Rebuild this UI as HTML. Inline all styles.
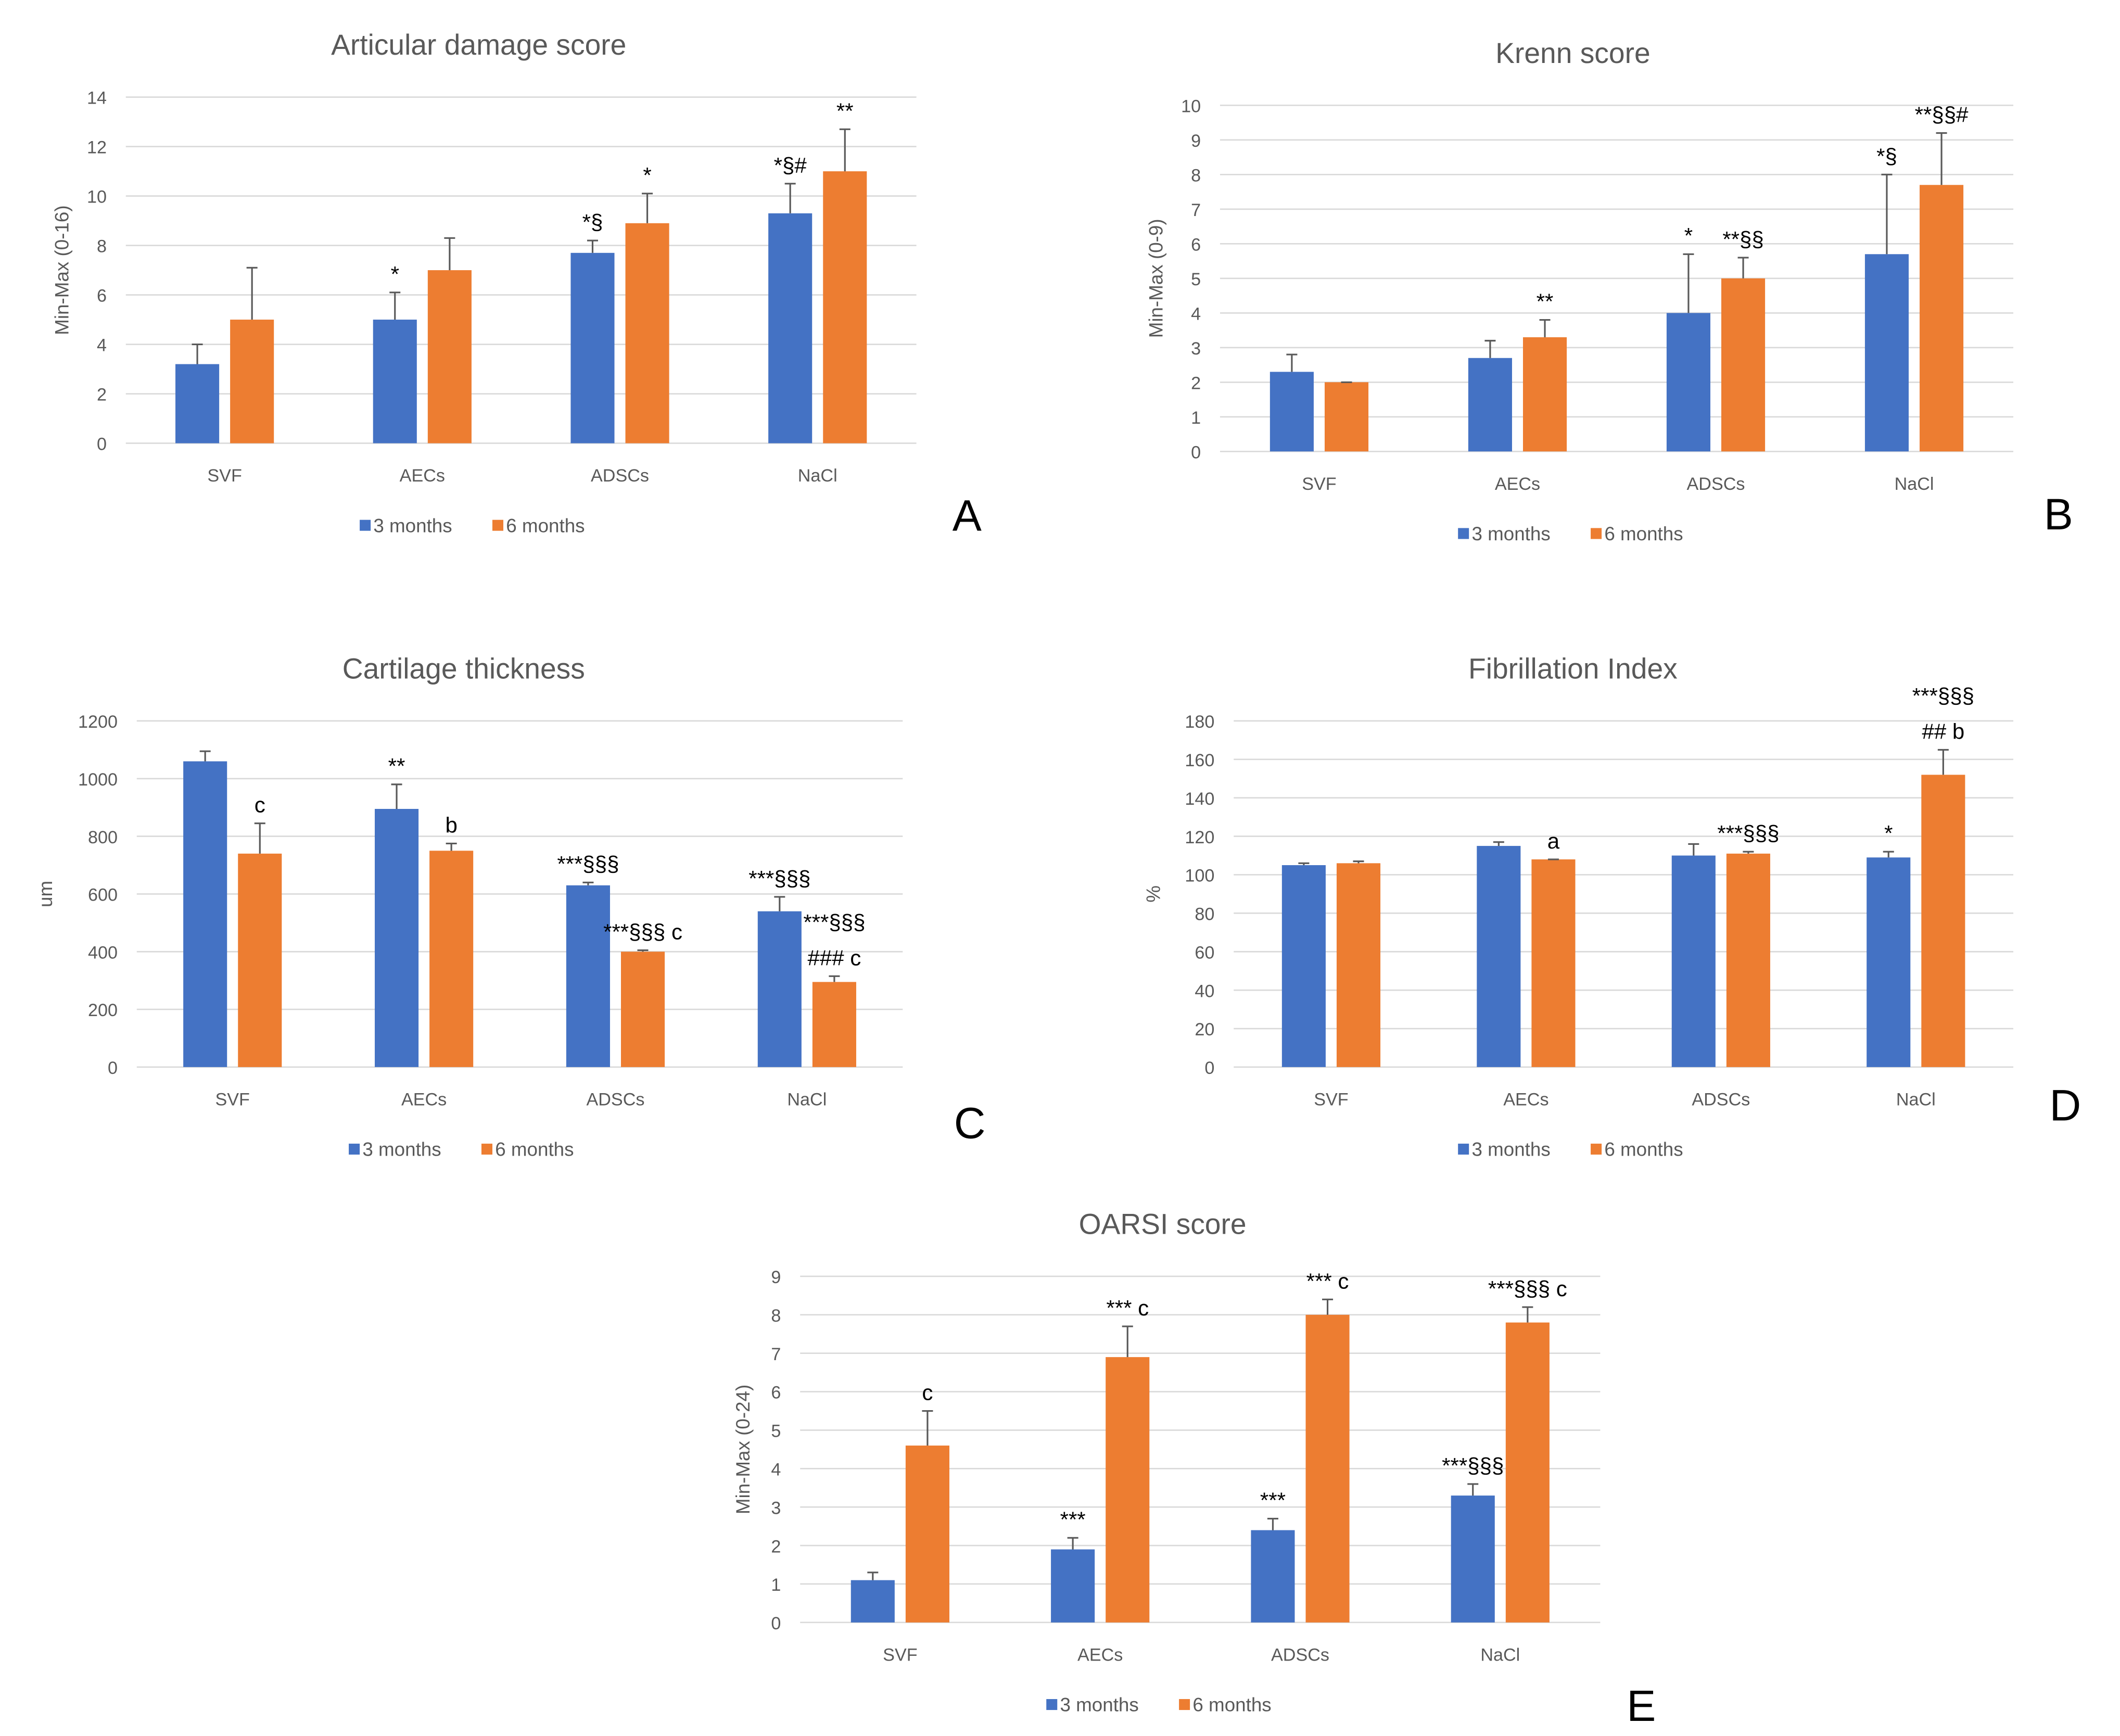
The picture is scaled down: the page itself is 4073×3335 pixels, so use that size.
<!DOCTYPE html>
<html><head><meta charset="utf-8">
<style>
html,body{margin:0;padding:0;background:#fff;}
svg{display:block;}
text{font-family:"Liberation Sans",sans-serif;}
</style></head>
<body>
<svg id="fig" width="4073" height="3335" viewBox="0 0 1550 1269" preserveAspectRatio="none" xmlns="http://www.w3.org/2000/svg">
<rect width="1550" height="1269" fill="#fff"/>
</svg>
<script>
const categories = ["SVF","AECs","ADSCs","NaCl"];
// Panel A
const aBlue = [3.2,5.0,7.7,9.3];
const aOrange = [5.0,7.0,8.9,11.0];
const aBlueErr = [4.0,6.1,8.2,10.5];
const aOrangeErr = [7.1,8.3,10.1,12.7];
const aTicks = [0,2,4,6,8,10,12,14];
const aBlueAnn = ["","*","*§","*§#"];
const aOrangeAnn = ["","","*","**"];
// Panel B
const bBlue = [2.3,2.7,4.0,5.7];
const bOrange = [2.0,3.3,5.0,7.7];
const bBlueErr = [2.8,3.2,5.7,8.0];
const bOrangeErr = [2.0,3.8,5.6,9.2];
const bTicks = [0,1,2,3,4,5,6,7,8,9,10];
const bBlueAnn = ["","","*","*§"];
const bOrangeAnn = ["","**","**§§","**§§#"];
// Panel C
const cBlue = [1060,895,630,540];
const cOrange = [740,750,400,295];
const cBlueErr = [1095,980,640,590];
const cOrangeErr = [845,775,405,315];
const cTicks = [0,200,400,600,800,1000,1200];
const cBlueAnn = ["","**","***§§§","***§§§"];
const cOrangeAnn = ["c","b","***§§§ c","***§§§|### c"];
// Panel D
const dBlue = [105,115,110,109];
const dOrange = [106,108,111,152];
const dBlueErr = [106,117,116,112];
const dOrangeErr = [107,108,112,165];
const dTicks = [0,20,40,60,80,100,120,140,160,180];
const dBlueAnn = ["","","","*"];
const dOrangeAnn = ["","a","***§§§","***§§§|## b"];
// Panel E
const eBlue = [1.1,1.9,2.4,3.3];
const eOrange = [4.6,6.9,8.0,7.8];
const eBlueErr = [1.3,2.2,2.7,3.6];
const eOrangeErr = [5.5,7.7,8.4,8.2];
const eTicks = [0,1,2,3,4,5,6,7,8,9];
const eBlueAnn = ["","***","***","***§§§"];
const eOrangeAnn = ["c","*** c","*** c","***§§§ c"];

const NS="http://www.w3.org/2000/svg";
const svg=document.getElementById('fig');
function mk(tag,attrs,parent){const e=document.createElementNS(NS,tag);for(const k in attrs)e.setAttribute(k,attrs[k]);(parent||svg).appendChild(e);return e;}
function txt(s,x,y,size,fill,anchor,parent){const t=mk('text',{x:x,y:y,'font-size':size,fill:fill,'text-anchor':anchor||'middle'},parent);t.textContent=s;return t;}

function panel(p){
  const g=mk('g',{});
  
  
  const max=p.ticks[p.ticks.length-1];
  const yS=v=>p.y0-(v/max)*(p.y0-p.yTop);
  const step=(p.x1-p.x0)/4;
  const xS=i=>p.x0+step*(i+0.5);
  p.ticks.forEach(t=>{
    const l=mk('line',{x1:p.x0,x2:p.x1,y1:yS(t),y2:yS(t),stroke:'#d9d9d9','stroke-width':1},g);
    
    
    const tl=txt(String(t),p.x0-14,yS(t)+5,13,'#595959','end',g);
    
    
  });
  const tt=txt(p.title,p.titleX,p.titleY,21,'#595959','middle',g);
  
  
  const yt=txt(p.ytitle,0,0,14,'#595959','middle',g);
  yt.setAttribute('transform','translate('+p.ytx+','+((p.y0+p.yTop)/2)+') rotate(-90)');
  
  
  const bw=32;
  const series=[[p.blue,p.blueErr,p.blueAnn,'#4472c4',-20,'3-months'],[p.orange,p.orangeErr,p.orangeAnn,'#ed7d31',20,'6-months']];
  categories.forEach((c,i)=>{
    const cl=txt(c,xS(i),p.y0+28,13,'#595959','middle',g);
    
    
    series.forEach(s=>{
      const cx=xS(i)+s[4];
      const r=mk('rect',{x:cx-bw/2,y:yS(s[0][i]),width:bw,height:yS(0)-yS(s[0][i]),fill:s[3]},g);
      
      
      const ey=yS(s[1][i]);
      const el=mk('path',{d:'M'+cx+' '+yS(s[0][i])+'V'+ey+'M'+(cx-4)+' '+ey+'H'+(cx+4),stroke:'#595959','stroke-width':1.2,fill:'none'},g);
      
      
      const ann=s[2][i];
      if(ann){
        const lines=ann.split('|');
        lines.forEach((ln,k)=>{
          const a=txt(ln,cx,ey-8-(lines.length-1-k)*26,16,'#000','middle',g);
          
          
        });
      }
    });
  });
  const lx=p.legX;
  const lb=mk('rect',{x:lx-87,y:p.legY-9,width:8,height:8,fill:'#4472c4'},g);
  
  
  const l1=txt('3 months',lx-77,p.legY,14,'#595959','start',g);
  
  
  const lo=mk('rect',{x:lx+10,y:p.legY-9,width:8,height:8,fill:'#ed7d31'},g);
  
  
  const l2=txt('6 months',lx+20,p.legY,14,'#595959','start',g);
  
  
  const pl=txt(p.letter,p.letX,p.letY,32,'#000','middle',g);
  
  
}

panel({id:'articular-damage',title:'Articular damage score',titleX:350,titleY:40,ytitle:'Min-Max (0-16)',ytx:50,x0:92,x1:670,y0:324,yTop:71,ticks:aTicks,blue:aBlue,orange:aOrange,blueErr:aBlueErr,orangeErr:aOrangeErr,blueAnn:aBlueAnn,orangeAnn:aOrangeAnn,legX:350,legY:389,letter:'A',letX:707,letY:388});
panel({id:'krenn',title:'Krenn score',titleX:1150,titleY:46,ytitle:'Min-Max (0-9)',ytx:850,x0:892,x1:1472,y0:330,yTop:77,ticks:bTicks,blue:bBlue,orange:bOrange,blueErr:bBlueErr,orangeErr:bOrangeErr,blueAnn:bBlueAnn,orangeAnn:bOrangeAnn,legX:1153,legY:395,letter:'B',letX:1505,letY:387});
panel({id:'cartilage-thickness',title:'Cartilage thickness',titleX:339,titleY:496,ytitle:'um',ytx:38,x0:100,x1:660,y0:780,yTop:527,ticks:cTicks,blue:cBlue,orange:cOrange,blueErr:cBlueErr,orangeErr:cOrangeErr,blueAnn:cBlueAnn,orangeAnn:cOrangeAnn,legX:342,legY:845,letter:'C',letX:709,letY:832});
panel({id:'fibrillation-index',title:'Fibrillation Index',titleX:1150,titleY:496,ytitle:'%',ytx:848,x0:902,x1:1472,y0:780,yTop:527,ticks:dTicks,blue:dBlue,orange:dOrange,blueErr:dBlueErr,orangeErr:dOrangeErr,blueAnn:dBlueAnn,orangeAnn:dOrangeAnn,legX:1153,legY:845,letter:'D',letX:1510,letY:819});
panel({id:'oarsi',title:'OARSI score',titleX:850,titleY:902,ytitle:'Min-Max (0-24)',ytx:548,x0:585,x1:1170,y0:1186,yTop:933,ticks:eTicks,blue:eBlue,orange:eOrange,blueErr:eBlueErr,orangeErr:eOrangeErr,blueAnn:eBlueAnn,orangeAnn:eOrangeAnn,legX:852,legY:1251,letter:'E',letX:1200,letY:1258});
</script>
</body></html>
